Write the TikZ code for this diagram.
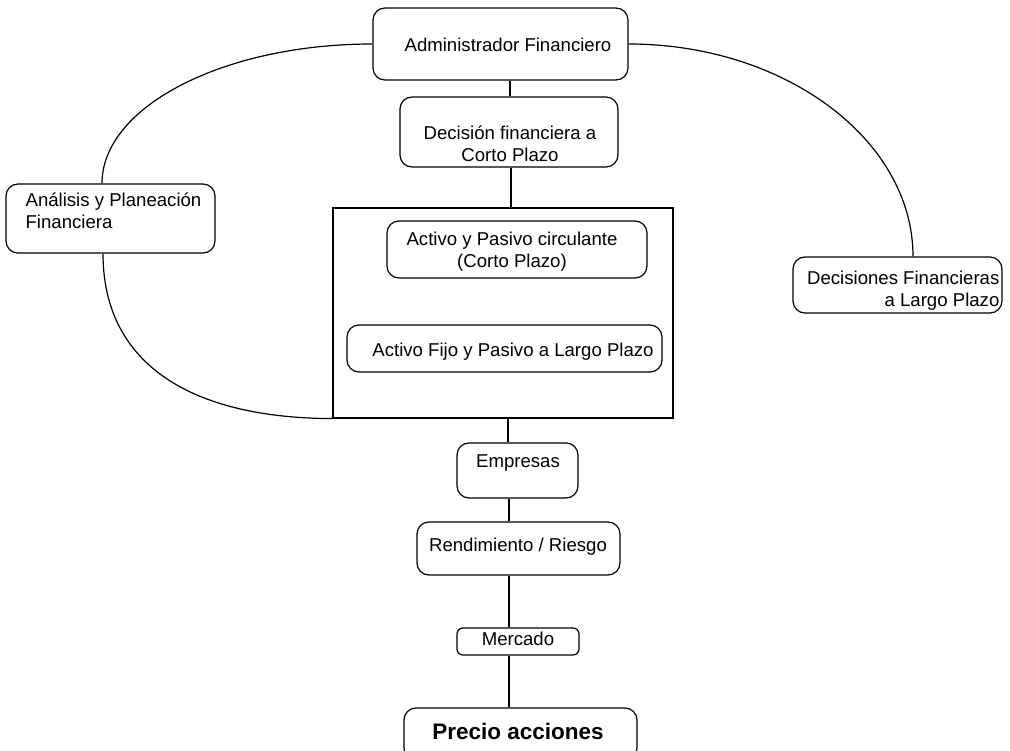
\documentclass[tikz,border=0pt]{standalone}
\usepackage{fontspec}
\setmainfont{Liberation Sans}
\usetikzlibrary{calc}
\begin{document}
\begin{tikzpicture}[x=1pt,y=-1pt, line width=1.2pt,
 box/.style={draw, rounded corners=12pt, inner sep=0pt},
 frame/.style={draw, inner sep=0pt},
 txt/.style={inner sep=0pt, font=\fontsize{18.6}{22}\selectfont},
 bigtxt/.style={inner sep=0pt, font=\fontsize{22.5}{26}\selectfont\bfseries}]
\useasboundingbox (0,0) rectangle (1010,751);
\fill[white] (0,0) rectangle (1010,751);
% boxes
\node[box, minimum width=255pt, minimum height=72pt] (adm) at (500.5,44) {};
\node[txt] (admt) at (508,45) {Administrador Financiero};
\node[box, minimum width=218pt, minimum height=70pt] (dec) at (509,132) {};
\node[txt, align=center] (dect) at (510,144) {Decisión financiera a\\Corto Plazo};
\node[frame, minimum width=340pt, minimum height=210pt] (big) at (503,313) {};
\node[box, minimum width=260pt, minimum height=57pt] (apc) at (517,249.5) {};
\node[txt, align=center] (apct) at (512,252) {Activo y Pasivo circulante\\(Corto Plazo)};
\node[box, minimum width=315pt, minimum height=47pt] (afp) at (504.5,348.5) {};
\node[txt] (afpt) at (513,352) {Activo Fijo y Pasivo a Largo Plazo};
\node[box, minimum width=209pt, minimum height=69pt] (ana) at (110.5,218.5) {};
\node[txt, align=left, anchor=west] (anat) at (25,211) {Análisis y Planeación\\Financiera};
\node[box, minimum width=209pt, minimum height=56pt] (dlp) at (897.5,285) {};
\node[txt, align=right, anchor=east] (dlpt) at (1000,291) {Decisiones Financieras\\a Largo Plazo};
\node[box, minimum width=121pt, minimum height=55pt] (emp) at (517.5,470.5) {};
\node[txt] (empt) at (518,463) {Empresas};
\node[box, minimum width=203pt, minimum height=53pt] (ren) at (518.5,548.5) {};
\node[txt] (rent) at (518,547) {Rendimiento / Riesgo};
\node[box, rounded corners=6pt, minimum width=122pt, minimum height=27pt] (mer) at (518,641.5) {};
\node[txt] (mert) at (518,639) {Mercado};
\node[box, minimum width=233pt, minimum height=52pt] (pre) at (520.5,734) {};
\node[bigtxt] (pret) at (518,731) {Precio acciones};
% vertical connectors
\draw (510,0 |- adm.south) -- (510,0 |- dec.north);
\draw (511,0 |- dec.south) -- (511,0 |- big.north);
\draw (508,0 |- big.south) -- (508,0 |- emp.north);
\draw (509,0 |- emp.south) -- (509,0 |- ren.north);
\draw (509,0 |- ren.south) -- (509,0 |- mer.north);
\draw (509,0 |- mer.south) -- (509,0 |- pre.north);
% curves
\draw (adm.west) .. controls (223,44) and (102,107) .. (102,0 |- ana.north);
\draw (103,0 |- ana.south) .. controls (103,360) and (185,418) .. (big.south west);
\draw (adm.east) .. controls (785,44) and (913,140) .. (913,0 |- dlp.north);
\end{tikzpicture}
\end{document}
